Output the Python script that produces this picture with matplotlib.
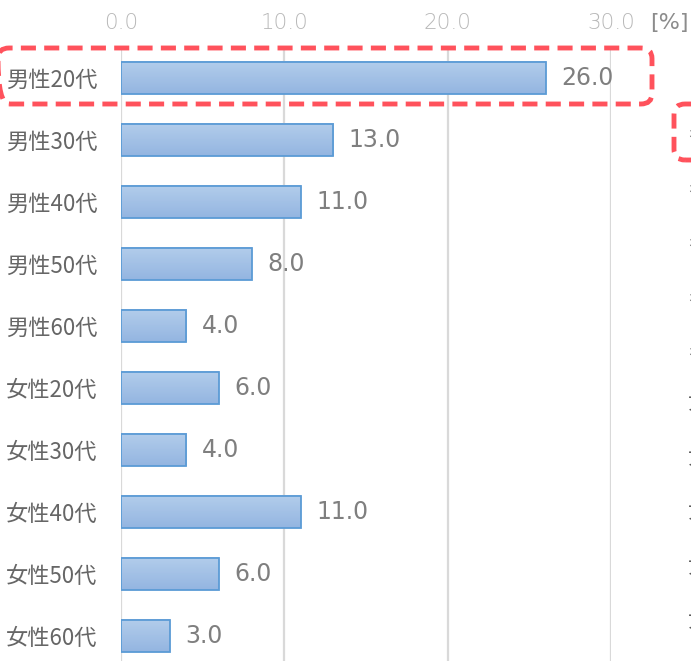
import numpy as np
import matplotlib
matplotlib.use("Agg")
from matplotlib import pyplot as plt
from matplotlib.patches import FancyBboxPatch

categories = ["男性20代", "男性30代", "男性40代", "男性50代", "男性60代",
              "女性20代", "女性30代", "女性40代", "女性50代", "女性60代"]
values = [26.0, 13.0, 11.0, 8.0, 4.0, 6.0, 4.0, 11.0, 6.0, 3.0]
ticks = [0, 10, 20, 30]

plt.rcParams['font.family'] = ['Noto Sans CJK JP', 'DejaVu Sans']

W, H = 691, 661
fig = plt.figure(figsize=(W / 100, H / 100), dpi=100)
ax = fig.add_axes([121 / W, 1 - 667 / H, 490 / W, 620 / H])

n = len(categories)
ypos = np.arange(n)
bar_h = 0.52

# gradient fill for each bar
grad = np.linspace(0, 1, 64).reshape(-1, 1)
cmap = matplotlib.colors.LinearSegmentedColormap.from_list("bar", ["#b3cdeb", "#93b5e1"])
for y, v in zip(ypos, values):
    ax.imshow(grad, extent=(0, v, y + bar_h / 2, y - bar_h / 2), cmap=cmap,
              aspect='auto', zorder=2, interpolation='bicubic')
ax.barh(ypos, values, height=bar_h, facecolor='none', edgecolor='#5b9bd5',
        linewidth=1.3, zorder=3)

for y, v in zip(ypos, values):
    ax.annotate(f"{v:.1f}", (v, y), xytext=(11, 0), textcoords='offset points',
                ha='left', va='center', fontsize=17, color='#7f7f7f',
                family='DejaVu Sans')

ax.set_xlim(0, 30)
ax.set_ylim(n - 0.5, -0.5)
ax.xaxis.tick_top()
ax.set_xticks(ticks)
ax.set_xticklabels([f"{t:.1f}" for t in ticks], family='DejaVu Sans',
                   fontsize=15.5, color='#b8b8b8', fontweight='light')
ax.set_yticks(ypos)
ax.set_yticklabels(categories, fontsize=16, color='#666666', va='center_baseline')
ax.tick_params(axis='x', length=0, pad=10)
ax.tick_params(axis='y', length=0, pad=17)
for s in ax.spines.values():
    s.set_visible(False)
ax.grid(axis='x', color='#d9d9d9', linewidth=1.6, zorder=0)
ax.set_axisbelow(True)

fig.text(650 / W, 1 - 23 / H, "[%]", ha='left', va='center', fontsize=16,
         color='#8c8c8c', family='DejaVu Sans')

# red dashed highlight around first row
red = '#ff525c'
box = FancyBboxPatch((-2 / W, 1 - 104 / H), 654 / W, 56 / H,
                     boxstyle="round,pad=0,rounding_size=0.016",
                     transform=fig.transFigure, fill=False, edgecolor=red,
                     linewidth=3.5, linestyle=(0, (3.1, 1.7)), zorder=10)
fig.add_artist(box)

# neighbouring chart, cut off at the right edge
box2 = FancyBboxPatch((674 / W, 1 - 160 / H), 60 / W, 56 / H,
                      boxstyle="round,pad=0,rounding_size=0.016",
                      transform=fig.transFigure, fill=False, edgecolor=red,
                      linewidth=3.5, linestyle=(0, (3.1, 1.7)), zorder=10)
fig.add_artist(box2)
for i, c in enumerate(categories):
    fig.text(688 / W, 1 - (130 + 54.6 * i) / H, c, ha='left', va='center',
             fontsize=15, color='#595959')

fig.savefig("out.png", dpi=100)
